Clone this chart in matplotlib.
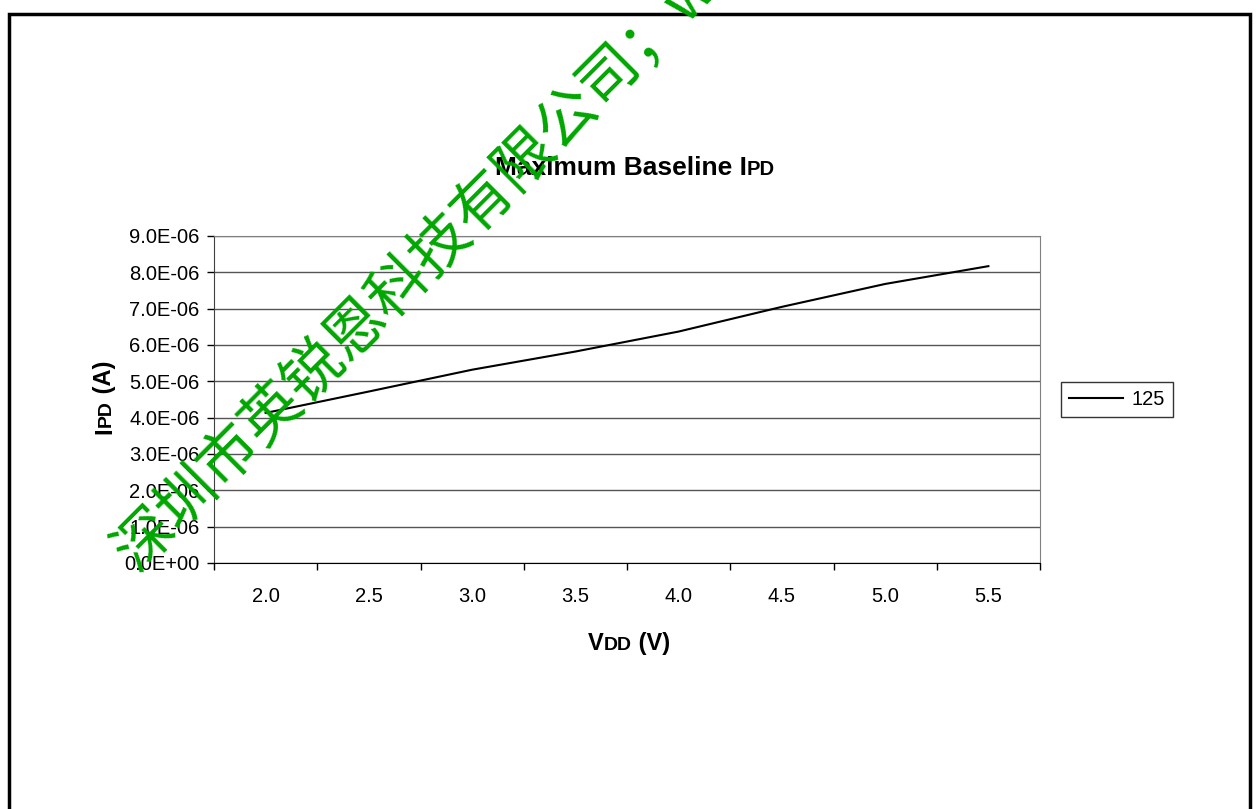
import matplotlib
matplotlib.use("Agg")
import matplotlib.pyplot as plt
from matplotlib.patches import Rectangle
from matplotlib.ticker import FixedLocator, FuncFormatter, NullFormatter

plt.rcParams["font.family"] = ["Liberation Sans", "DejaVu Sans"]

# ── データ ──────────────────────────────────────────────────────
vdd_labels = ["2.0", "2.5", "3.0", "3.5", "4.0", "4.5", "5.0", "5.5"]
ipd_125 = [4.13e-6, 4.72e-6, 5.32e-6, 5.82e-6, 6.37e-6, 7.05e-6, 7.68e-6, 8.17e-6]
series_name = "125"
y_ticks = [i * 1e-6 for i in range(10)]
watermark = "深圳市英锐恩科技有限公司；www"

W, H = 1258, 809
fig = plt.figure(figsize=(W / 100, H / 100), dpi=100)
renderer = fig.canvas.get_renderer()


def mixed_text(x_px, y_px, parts, vertical=False):
    """大きい文字と小さい文字を並べて描く（I + PD のような表記用）."""
    pos = 0.0
    for s, size in parts:
        if vertical:
            t = fig.text(x_px / W, 1 - (y_px - pos) / H, s, fontsize=size,
                         fontweight="bold", rotation=90, rotation_mode="anchor",
                         ha="left", va="baseline")
            pos += t.get_window_extent(renderer).height
        else:
            t = fig.text((x_px + pos) / W, 1 - y_px / H, s, fontsize=size,
                         fontweight="bold", ha="left", va="baseline")
            pos += t.get_window_extent(renderer).width


# 外枠
fig.patches.append(Rectangle((9 / W, -0.05), (1250 - 9) / W, 1.05 - 14 / H,
                             transform=fig.transFigure, fill=False,
                             edgecolor="black", linewidth=2.5))

ax = fig.add_axes([214 / W, 1 - 563 / H, (1040 - 214) / W, (563 - 236) / H])
x = list(range(len(vdd_labels)))
ax.plot(x, ipd_125, color="black", linewidth=1.5, label=series_name, zorder=3)

ax.set_xlim(-0.5, len(vdd_labels) - 0.5)
ax.set_ylim(0, 9e-6)

# x 軸: カテゴリ境界に目盛り、ラベルは中央
ax.xaxis.set_major_locator(FixedLocator([i - 0.5 for i in range(len(vdd_labels) + 1)]))
ax.xaxis.set_major_formatter(NullFormatter())
ax.xaxis.set_minor_locator(FixedLocator(x))
ax.set_xticklabels(vdd_labels, minor=True)
ax.tick_params(axis="x", which="major", direction="out", length=5, width=1, color="black")
ax.tick_params(axis="x", which="minor", length=0, pad=17, labelsize=14.5)

ax.set_yticks(y_ticks)
ax.yaxis.set_major_formatter(FuncFormatter(lambda v, p: f"{v:.1E}"))
ax.tick_params(axis="y", direction="out", length=5, width=1, color="black",
               labelsize=14.5, pad=5.5)

ax.grid(axis="y", color="#555555", linewidth=1)
ax.set_axisbelow(True)
for side in ("top", "right"):
    ax.spines[side].set_color("#808080")
ax.spines["left"].set_color("#404040")
ax.spines["bottom"].set_color("black")

# タイトル・軸ラベル
mixed_text(495, 175, [("Maximum Baseline I", 19), ("PD", 14.5)])
mixed_text(588, 650, [("V", 17), ("DD", 14), (" (V)", 17)])
mixed_text(111, 434, [("I", 17), ("PD", 14), (" (A)", 17)], vertical=True)

leg = ax.legend(loc="center left", bbox_to_anchor=(1061 / W, 1 - 399.5 / H),
                bbox_transform=fig.transFigure, frameon=True, fancybox=False,
                edgecolor="black", fontsize=14.5, handlelength=2.7,
                handletextpad=0.4, borderpad=0.4, borderaxespad=0)
leg.get_frame().set_linewidth(1)

# 透かし文字
fig.text(137 / W, 1 - 573 / H, watermark, fontsize=43, color="#00a600",
         rotation=45, rotation_mode="anchor", ha="left", va="baseline",
         family=["Noto Sans CJK SC", "DejaVu Sans"], zorder=10)

fig.savefig("out.png", dpi=100)
